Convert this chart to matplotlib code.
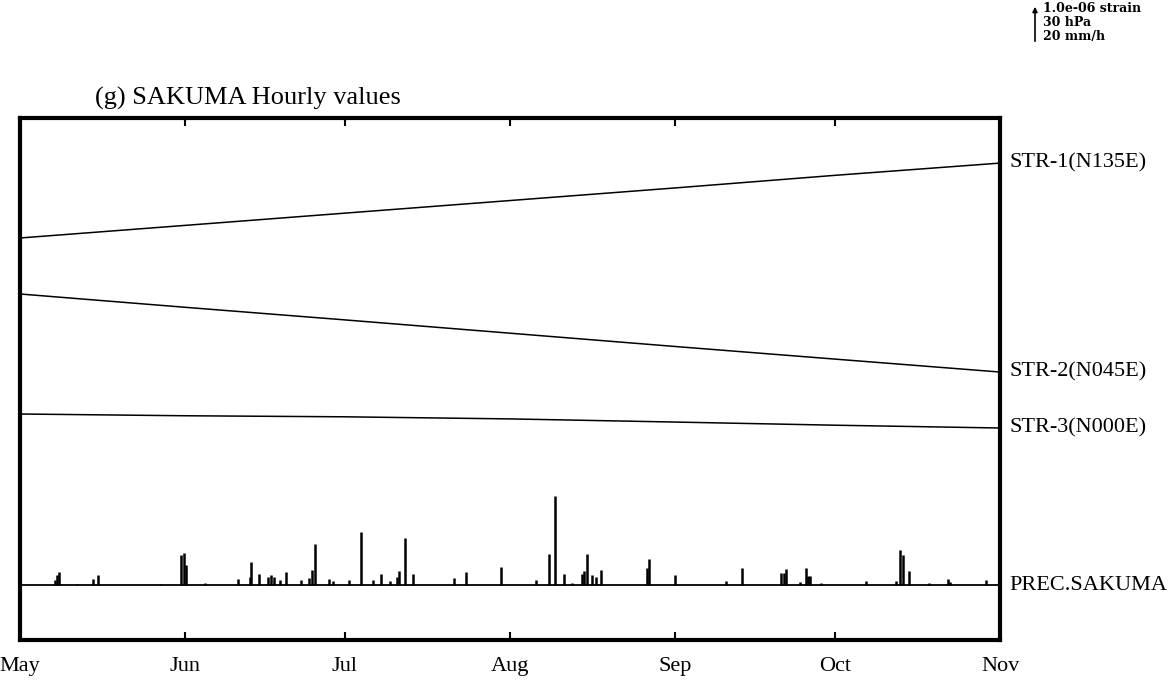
import numpy as np
import matplotlib.pyplot as plt

plt.rcParams['font.family'] = ['Liberation Serif', 'DejaVu Serif']

# month boundaries, days counted from May 1
month_labels = ['May', 'Jun', 'Jul', 'Aug', 'Sep', 'Oct', 'Nov']
month_days = [0, 31, 61, 92, 123, 153, 184]

# strain traces, 1e-06 strain relative to May 1 (read at month starts)
str1 = [0.0, 0.36, 0.71, 1.07, 1.43, 1.79, 2.14]
str2 = [0.0, -0.38, -0.74, -1.12, -1.50, -1.86, -2.23]
str3 = [0.0, -0.05, -0.08, -0.14, -0.23, -0.32, -0.40]
trace_names = ['STR-1(N135E)', 'STR-2(N045E)', 'STR-3(N000E)']

# hourly precipitation at SAKUMA (mm/h), only the non-zero hours
prec_day = [6.6, 7.0, 7.4, 10.7, 13.7, 14.7, 26.4, 30.3, 30.7, 31.1, 34.7,
            41.0, 43.1, 43.4, 44.8, 46.6, 47.2, 47.7, 48.8, 50.0, 52.7,
            54.3, 54.8, 55.3, 58.0, 58.7, 61.8, 64.0, 66.3, 67.8, 69.5,
            70.8, 71.2, 72.3, 73.8, 81.4, 83.8, 90.3, 96.8, 99.4, 100.4,
            102.2, 103.6, 105.5, 105.9, 106.5, 107.4, 108.2, 109.1, 117.8,
            118.1, 122.9, 132.6, 135.5, 142.8, 143.4, 143.8, 146.5, 147.5,
            148.0, 148.3, 150.3, 158.8, 164.5, 165.3, 165.7, 167.0, 170.7,
            174.2, 174.6, 181.4]
prec_mm = [2.9, 5.7, 7.4, 0.6, 3.4, 5.7, 0.6, 17.1, 18.3, 11.4, 1.1,
           3.4, 4.6, 13.1, 6.3, 4.6, 5.7, 4.6, 2.9, 7.4, 2.9,
           4.0, 8.6, 23.4, 3.4, 2.3, 2.9, 30.3, 2.9, 6.3, 2.3,
           4.6, 8.0, 26.9, 6.3, 4.0, 7.4, 10.3, 2.9, 17.7, 50.9,
           6.3, 1.1, 6.3, 8.0, 17.7, 5.7, 4.6, 8.6, 9.7,
           14.9, 5.7, 2.3, 9.7, 6.9, 6.9, 9.1, 1.7, 9.7,
           5.1, 5.1, 1.1, 2.3, 2.3, 20.0, 17.1, 8.0, 1.1,
           3.4, 1.7, 2.9]

# vertical placement of each trace (in units of the scale bar)
offsets = [11.486, 9.886, 6.457]
prec_base = 1.571
prec_scale = 20.0  # mm/h per unit

fig = plt.figure(figsize=(11.76, 6.84), dpi=100)
ax = fig.add_axes([20/1176, 44/684, 980/1176, 522/684])

for vals, off in zip([str1, str2, str3], offsets):
    ax.plot(month_days, np.array(vals) + off, color='k', lw=1.1)

ax.plot([month_days[0], month_days[-1]], [prec_base, prec_base], color='k', lw=1.3)
ax.vlines(prec_day, prec_base, prec_base + np.array(prec_mm) / prec_scale,
          color='k', lw=1.8)

ax.set_xlim(month_days[0], month_days[-1])
ax.set_ylim(0, 522/35)
ax.set_xticks(month_days)
ax.set_xticklabels(month_labels, fontsize=16)
ax.set_yticks([])
ax.tick_params(axis='x', direction='in', length=6, width=1.5, top=True, pad=12)
for s in ax.spines.values():
    s.set_linewidth(3)

# labels on the right at the end of each trace
ends = [v[-1] + o for v, o in zip([str1, str2, str3], offsets)]
for name, y in zip(trace_names, ends):
    ax.text(1.01, y, name, transform=ax.get_yaxis_transform(), fontsize=16,
            va='center', ha='left')
ax.text(1.01, prec_base, 'PREC.SAKUMA', transform=ax.get_yaxis_transform(),
        fontsize=16, va='center', ha='left')

ax.text(0.0765, 1.016, '(g) SAKUMA Hourly values', transform=ax.transAxes,
        fontsize=19, va='bottom', ha='left')

# scale bar at top right
fig.text(1043/1176, 1 - 2/684, '1.0e-06 strain\n30 hPa\n20 mm/h',
         family='DejaVu Serif', fontweight='bold', fontsize=9,
         va='top', ha='left', linespacing=1.1)
ax.annotate('', xy=(1035/1176, 1 - 4/684), xytext=(1035/1176, 1 - 44/684),
            xycoords='figure fraction', textcoords='figure fraction',
            arrowprops=dict(arrowstyle='-|>', color='k', lw=1.2,
                            mutation_scale=7))

plt.savefig('out.png', dpi=100)
